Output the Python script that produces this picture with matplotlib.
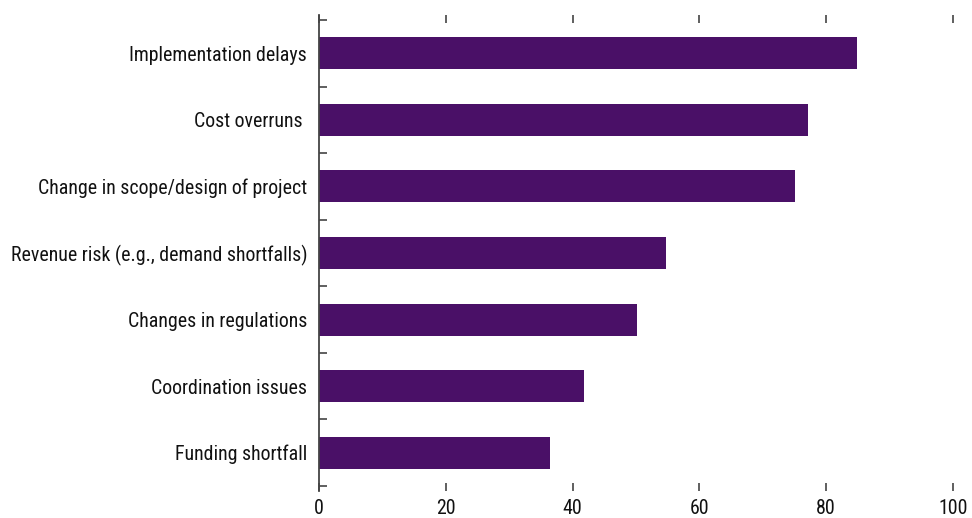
import matplotlib
matplotlib.use("Agg")
import matplotlib.pyplot as plt
from matplotlib import font_manager
import numpy as np

categories = [
    "Implementation delays",
    "Cost overruns ",
    "Change in scope/design of project",
    "Revenue risk (e.g., demand shortfalls)",
    "Changes in regulations",
    "Coordination issues",
    "Funding shortfall",
]
values = [84.9, 77.1, 75.1, 54.7, 50.2, 41.8, 36.4]
xticks = [0, 20, 40, 60, 80, 100]

names = {f.name for f in font_manager.fontManager.ttflist}
prefs = ["Liberation Sans Narrow", "Arial Narrow", "Nimbus Sans Narrow",
         "Roboto Condensed", "Archivo Narrow", "PT Sans Narrow",
         "Open Sans Condensed", "Pragati Narrow", "Liberation Sans"]
fam = next((p for p in prefs if p in names), "DejaVu Sans")
plt.rcParams["font.family"] = [fam, "DejaVu Sans"]

fig = plt.figure(figsize=(9.72, 5.18), dpi=100)
W, H = 972, 518

# size chosen so the longest label spans about 297 px, like the reference
renderer = fig.canvas.get_renderer()
probe = fig.text(0, 0, categories[3], fontsize=13.5)
w = probe.get_window_extent(renderer).width
probe.remove()
fs = float(np.clip(13.5 * 297.0 / w, 10.5, 15.5))

left, right, top, bottom = 319, 953, 15, 491
ax = fig.add_axes([left / W, 1 - bottom / H, (right - left) / W, (bottom - top) / H])

n = len(categories)
y = np.arange(n)[::-1]
ax.barh(y, values, height=0.48, color="#4a1067", zorder=2)

d = 0.075
ax.set_ylim(-0.5 - d, n - 0.5 + d)
ax.set_xlim(0, 100)

ax.set_yticks(y)
ax.set_yticklabels(categories, fontsize=fs, color="#111111")
ax.tick_params(axis="y", which="major", length=0, pad=8.5)
ax.set_yticks(np.arange(-0.5, n, 1.0), minor=True)
ax.tick_params(axis="y", which="minor", direction="in", length=6, width=1.2, color="#444444")

ax.set_xticks(xticks)
ax.set_xticklabels([str(v) for v in xticks], fontsize=fs, color="#111111")
ax.tick_params(axis="x", which="major", direction="in", length=6, width=1.2,
               color="#444444", top=True, bottom=True, pad=6)

for s in ["right", "top", "bottom"]:
    ax.spines[s].set_visible(False)
ax.spines["left"].set_color("#444444")
ax.spines["left"].set_linewidth(1.3)

fig.savefig("out.png", dpi=100)
